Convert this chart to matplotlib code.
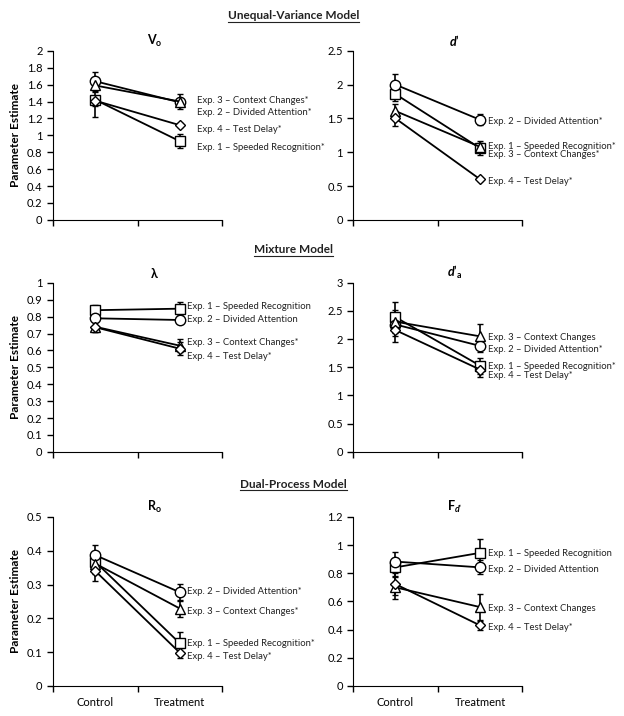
import numpy as np
import matplotlib
matplotlib.use("Agg")
from matplotlib import pyplot as plt
from matplotlib.lines import Line2D

plt.rcParams['font.family'] = ['Lato', 'DejaVu Sans']
plt.rcParams['mathtext.fontset'] = 'custom'
plt.rcParams['mathtext.rm'] = 'Lato'
plt.rcParams['mathtext.it'] = 'Lato:italic:bold'
plt.rcParams['mathtext.bf'] = 'Lato:bold'

conditions = ["Control", "Treatment"]
exp_names = ["Exp. 1 \u2013 Speeded Recognition", "Exp. 2 \u2013 Divided Attention",
             "Exp. 3 \u2013 Context Changes", "Exp. 4 \u2013 Test Delay"]
markers = ["s", "o", "^", "D"]

# values per experiment: [control, treatment]
vo_vals = [[1.42, 0.93], [1.64, 1.39], [1.59, 1.40], [1.41, 1.12]]
vo_err = [[0.20, 0.08], [0.11, 0.04], [0.08, 0.09], [0.06, 0.02]]
vo_star = ["*", "*", "*", "*"]

dp_vals = [[1.86, 1.06], [2.00, 1.48], [1.61, 1.08], [1.50, 0.60]]
dp_err = [[0.10, 0.10], [0.16, 0.08], [0.10, 0.06], [0.11, 0.02]]
dp_star = ["*", "*", "*", "*"]

lam_vals = [[0.838, 0.847], [0.79, 0.78], [0.74, 0.628], [0.737, 0.61]]
lam_err = [[0.03, 0.04], [0.02, 0.02], [0.03, 0.04], [0.03, 0.04]]
lam_star = ["", "", "*", "*"]

da_vals = [[2.39, 1.53], [2.26, 1.88], [2.31, 2.05], [2.16, 1.46]]
da_err = [[0.27, 0.14], [0.2, 0.1], [0.2, 0.22], [0.21, 0.13]]
da_star = ["*", "*", "", "*"]

ro_vals = [[0.367, 0.126], [0.387, 0.277], [0.362, 0.229], [0.34, 0.098]]
ro_err = [[0.03, 0.035], [0.03, 0.025], [0.03, 0.025], [0.03, 0.015]]
ro_star = ["*", "*", "*", "*"]

fd_vals = [[0.842, 0.945], [0.883, 0.842], [0.70, 0.56], [0.723, 0.43]]
fd_err = [[0.07, 0.1], [0.07, 0.05], [0.08, 0.09], [0.08, 0.03]]
fd_star = ["", "", "", "*"]

# label placement (layout): y of each experiment label, x offset
panels = [
    (r"$\mathbf{V}_{\mathbf{o}}$", vo_vals, vo_err, vo_star, [0.86, 1.27, 1.41, 1.07], 1.70, 2.0, 0.2),
    ("$d\u2019$", dp_vals, dp_err, dp_star, [1.08, 1.46, 0.96, 0.56], 1.60, 2.5, 0.5),
    (r"$\mathbf{\lambda}$", lam_vals, lam_err, lam_star, [0.857, 0.78, 0.648, 0.564], 1.59, 1.0, 0.1),
    ("$d\u2019_{\\mathbf{a}}$", da_vals, da_err, da_star, [1.515, 1.82, 2.03, 1.35], 1.60, 3.0, 0.5),
    (r"$\mathbf{R}_{\mathbf{o}}$", ro_vals, ro_err, ro_star, [0.126, 0.278, 0.22, 0.087], 1.59, 0.5, 0.1),
    ("$\\mathbf{F}_{d\u2019}$", fd_vals, fd_err, fd_star, [0.943, 0.826, 0.549, 0.418], 1.60, 1.2, 0.2),
]

fig = plt.figure(figsize=(6.24, 7.16), dpi=100)
lefts = [0.085, 0.566]
bottoms = [0.693, 0.369, 0.042]
w, h = 0.271, 0.236

x = np.array([0.5, 1.5])
for i, (title, vals, errs, stars, lab_y, lab_x, ymax, ystep) in enumerate(panels):
    row, col = divmod(i, 2)
    ax = fig.add_axes([lefts[col], bottoms[row], w, h])
    for k in range(4):
        ax.errorbar(x, vals[k], yerr=errs[k], color="black", lw=1.3, elinewidth=1.2,
                    capsize=2, capthick=1.2, marker=markers[k],
                    ms=5.5 if markers[k] == "D" else 7.5, mfc="white", mec="black", mew=1.0,
                    clip_on=False, zorder=3)
        ax.text(lab_x, lab_y[k], exp_names[k] + stars[k], fontsize=6.8,
                va="center", ha="left", color="#222222")
    ax.set_xlim(0, 2)
    ax.set_ylim(0, ymax)
    ax.set_yticks(np.arange(0, ymax + ystep / 2, ystep))
    ax.yaxis.set_major_formatter(matplotlib.ticker.FormatStrFormatter('%g'))
    ax.set_xticks([0, 1, 2])
    ax.set_xticklabels([])
    if row == 2:
        ax.set_xticks(x, minor=True)
        ax.set_xticklabels(conditions, minor=True, fontsize=8)
        ax.tick_params(axis="x", which="minor", length=0, pad=8)
    ax.spines["top"].set_visible(False)
    ax.spines["right"].set_visible(False)
    ax.tick_params(axis="both", which="major", direction="out", length=4, labelsize=8, width=1)
    ax.text(0.60, 1.06, title, transform=ax.transAxes, ha="center", va="center",
            fontsize=9, fontweight="bold")
    if col == 0:
        ax.set_ylabel("Parameter Estimate", fontsize=8.5, fontweight="bold", labelpad=4)

section_titles = ["Unequal-Variance Model", "Mixture Model", "Dual-Process Model"]
section_y = [0.978, 0.651, 0.324]
texts = []
for t, yy in zip(section_titles, section_y):
    texts.append(fig.text(0.47, yy, t, ha="center", va="center", fontsize=8.5,
                          fontweight="bold", color="#222222"))

fig.canvas.draw()
inv = fig.transFigure.inverted()
for t in texts:
    bb = t.get_window_extent()
    (x0, y0), (x1, y1) = inv.transform([[bb.x0, bb.y0], [bb.x1, bb.y1]])
    fig.add_artist(Line2D([x0, x1], [y0 - 0.001, y0 - 0.001], color="#222222", lw=0.8,
                          transform=fig.transFigure))

fig.savefig("out.png", dpi=100)
